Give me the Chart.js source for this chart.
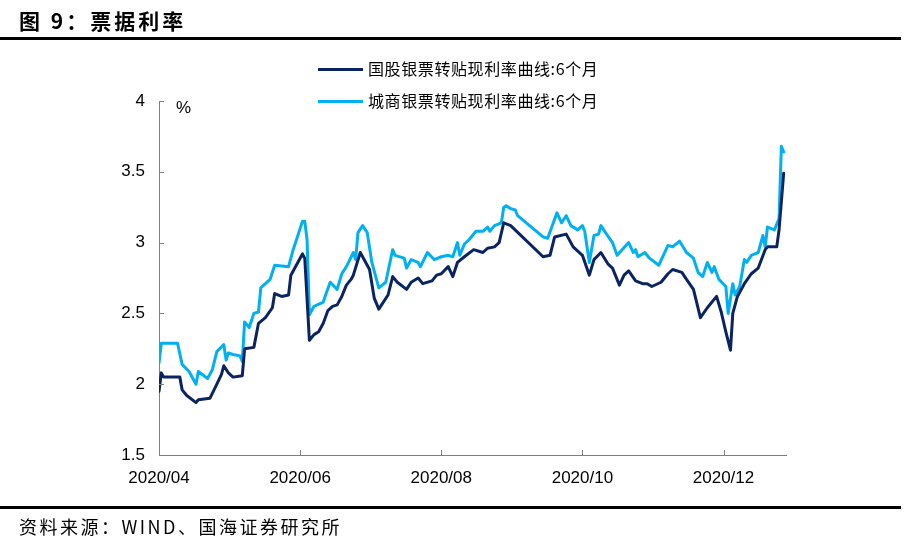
<!DOCTYPE html>
<html>
<head>
<meta charset="utf-8">
<script src="https://cdn.jsdelivr.net/npm/chart.js"></script>
<style>
  body { margin: 0; background: #fff; }
  #wrap { position: relative; width: 909px; height: 544px; overflow: hidden; }
  #chart { position: absolute; left: 0; top: 0; }
  .title { position: absolute; left: 19px; top: 5px; font: bold 21px "Noto Sans CJK SC", sans-serif; letter-spacing: 3px; color: #000; }
  .rule { position: absolute; left: 0; width: 901px; height: 3px; background: #000; }
  .source { position: absolute; left: 19px; top: 513px; font: 18px "Noto Sans CJK SC", sans-serif; letter-spacing: 2.5px; color: #000; }
  .unit { position: absolute; left: 176px; top: 98px; font: 17px "Liberation Sans", Arial, sans-serif; }
  .legend { position: absolute; left: 318px; font: 16px "Noto Sans CJK SC", sans-serif; letter-spacing: 0.6px; color: #000; }
  .legend i { display: inline-block; width: 45px; height: 3px; vertical-align: middle; margin-right: 5px; position: relative; top: -1px; }
</style>
</head>
<body>
<div id="wrap">
  <canvas id="chart" width="909" height="544"></canvas>
  <div class="title">图 9：票据利率</div>
  <div class="rule" style="top:37px"></div>
  <div class="legend" style="top:56px"><i style="background:#0a2462"></i>国股银票转贴现利率曲线:6个月</div>
  <div class="legend" style="top:88px"><i style="background:#00b0f0"></i>城商银票转贴现利率曲线:6个月</div>
  <div class="unit">%</div>
  <div class="rule" style="top:506px"></div>
  <div class="source">资料来源：WIND、国海证券研究所</div>
</div>
<script>
/* ========== Data (x = days since 2020-04-01) ========== */
const tickDays = [0, 61, 122, 183, 244];
const tickLabels = ['2020/04', '2020/06', '2020/08', '2020/10', '2020/12'];

const gugDays = [0, 1, 2, 9, 10, 12, 16, 17, 22, 25, 27, 28, 30, 32, 36, 37, 41, 43, 46, 49, 50, 53, 56, 57, 62, 63,
  65, 67, 69, 71, 73, 75, 77, 79, 81, 83, 84, 87, 91, 93, 95, 99, 101, 103, 107, 109, 112, 114, 118, 120, 122,
  125, 127, 129, 132, 136, 140, 142, 145, 147, 149, 152, 166, 169, 171, 176, 179, 183, 186, 188, 191, 194, 196,
  199, 201, 203, 206, 209, 211, 213, 217, 220, 222, 226, 228, 231, 234, 237, 241, 243, 245, 247, 248, 250, 253,
  256, 259, 262, 263, 267, 268, 270];
const gugRate = [1.95, 2.08, 2.05, 2.05, 1.96, 1.92, 1.87, 1.89, 1.90, 2.00, 2.07, 2.13, 2.08, 2.05, 2.06, 2.25, 2.26,
  2.43, 2.47, 2.54, 2.64, 2.62, 2.63, 2.77, 2.92, 2.89,
  2.31, 2.35, 2.37, 2.43, 2.52, 2.55, 2.56, 2.62, 2.70, 2.74, 2.77, 2.93, 2.81, 2.61, 2.53, 2.63, 2.76, 2.72, 2.67,
  2.72, 2.75, 2.71, 2.73, 2.77, 2.78,
  2.83, 2.76, 2.86, 2.90, 2.95, 2.93, 2.96, 2.97, 3.00, 3.14, 3.12, 2.90, 2.91, 3.04, 3.06, 2.97, 2.91, 2.77, 2.88,
  2.93, 2.85, 2.82,
  2.70, 2.77, 2.80, 2.73, 2.71, 2.71, 2.69, 2.72, 2.78, 2.81, 2.79, 2.74, 2.67, 2.47, 2.54, 2.62, 2.51, 2.37, 2.24,
  2.50, 2.62, 2.71,
  2.78, 2.82, 2.95, 2.97, 2.97, 3.09, 3.49];

const chsDays = [0, 1, 8, 10, 13, 16, 17, 21, 23, 25, 28, 29, 30, 32, 35, 36, 37, 39, 41, 43, 44, 48, 50, 56, 58, 62,
  63, 64, 65, 67, 71, 72, 74, 77, 79, 81, 84, 85, 86, 88, 90, 92, 95, 98, 101, 102, 106, 107, 109, 112, 113, 116,
  119, 122, 125, 127, 129, 130, 132, 134, 137, 140, 142, 143, 145, 148, 149, 150, 152, 154, 155, 166, 168, 172,
  174, 176, 178, 181, 183, 184, 186, 188, 190, 191, 193, 196, 198, 203, 205, 206, 207, 210, 212, 216, 220, 222,
  225, 228, 231, 233, 235, 237, 239, 240, 242, 245, 246, 248, 249, 251, 253, 254, 256, 259, 261, 262, 263, 266,
  268, 269, 270];
const chsRate = [2.15, 2.29, 2.29, 2.14, 2.09, 2.00, 2.09, 2.04, 2.10, 2.23, 2.28, 2.17, 2.22, 2.21, 2.20, 2.16, 2.44,
  2.40, 2.50, 2.51, 2.68, 2.74, 2.84, 2.83, 2.95, 3.15,
  3.15, 3.02, 2.49, 2.55, 2.58, 2.63, 2.72, 2.67, 2.78, 2.83, 2.93, 2.88, 3.07, 3.12, 3.07, 2.86, 2.68, 2.72, 2.95,
  2.91, 2.89, 2.82, 2.88, 2.86, 2.83, 2.93,
  2.88, 2.90, 2.91, 2.90, 3.00, 2.91, 2.99, 3.02, 3.08, 3.08, 3.11, 3.08, 3.12, 3.14, 3.25, 3.26, 3.24, 3.23, 3.19,
  3.04, 3.03, 3.21,
  3.14, 3.19, 3.12, 3.09, 3.12, 3.08, 2.86, 3.05, 3.06, 3.12, 3.07, 3.00, 2.91, 3.00, 2.93, 2.95, 2.90, 2.93, 2.89,
  2.84, 2.98, 2.97,
  3.01, 2.93, 2.89, 2.79, 2.76, 2.86, 2.79, 2.83, 2.74, 2.69, 2.50, 2.71, 2.63, 2.69, 2.88, 2.86, 2.91, 2.93, 3.05,
  2.97, 3.11, 3.09,
  3.17, 3.68, 3.64];

const toPoints = (xs, ys) => xs.map((x, i) => ({ x, y: ys[i] }));

/* ========== Inside tick marks ========== */
const innerTicks = {
  id: 'innerTicks',
  afterDraw(chart) {
    const { ctx, chartArea: a, scales: { x, y } } = chart;
    ctx.save();
    ctx.strokeStyle = '#7f7f7f';
    ctx.lineWidth = 1;
    ctx.beginPath();
    y.ticks.forEach(t => {
      const py = Math.round(y.getPixelForValue(t.value)) + 0.5;
      ctx.moveTo(a.left, py);
      ctx.lineTo(a.left + 5, py);
    });
    x.ticks.forEach(t => {
      const px = Math.round(x.getPixelForValue(t.value)) + 0.5;
      ctx.moveTo(px, a.bottom);
      ctx.lineTo(px, a.bottom - 5);
    });
    ctx.stroke();
    ctx.restore();
  }
};

const tickFont = { family: '"Liberation Sans", Arial, sans-serif', size: 17 };

new Chart(document.getElementById('chart'), {
  type: 'line',
  data: {
    datasets: [
      { label: '国股银票转贴现利率曲线:6个月', data: toPoints(gugDays, gugRate), borderColor: '#0a2462', borderWidth: 3 },
      { label: '城商银票转贴现利率曲线:6个月', data: toPoints(chsDays, chsRate), borderColor: '#00b0f0', borderWidth: 3 }
    ]
  },
  options: {
    responsive: false,
    animation: false,
    parsing: false,
    layout: { padding: { left: 0, right: 123, top: 101, bottom: 0 } },
    elements: { point: { radius: 0 }, line: { tension: 0, borderJoinStyle: 'round', borderCapStyle: 'round' } },
    plugins: { legend: { display: false }, tooltip: { enabled: false } },
    scales: {
      x: {
        type: 'linear', min: 0, max: 271,
        afterBuildTicks: s => { s.ticks = tickDays.map(v => ({ value: v })); },
        afterFit: s => { s.height = 89; },
        grid: { display: false, drawTicks: false },
        border: { display: true, color: '#7f7f7f', width: 1 },
        ticks: { font: tickFont, color: '#000', padding: 13, maxRotation: 0, autoSkip: false,
          callback: v => tickLabels[tickDays.indexOf(v)] }
      },
      y: {
        min: 1.5, max: 4,
        afterFit: s => { s.width = 159; },
        grid: { display: false, drawTicks: false },
        border: { display: true, color: '#7f7f7f', width: 1 },
        ticks: { font: tickFont, color: '#000', padding: 14, stepSize: 0.5, callback: v => String(v) }
      }
    }
  },
  plugins: [innerTicks]
});
</script>
</body>
</html>
